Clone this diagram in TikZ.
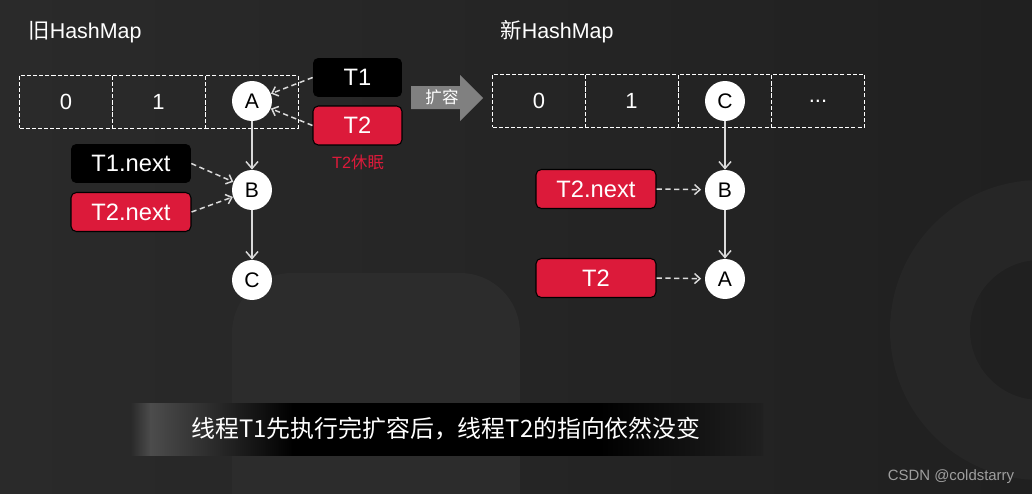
\documentclass[tikz,border=0pt]{standalone}
\usepackage{fontspec}
\setmainfont{Liberation Sans}
\newfontfamily\cjk{Noto Sans CJK SC}
\usetikzlibrary{arrows.meta}

\definecolor{fondoIzq}{HTML}{2A2A2A}
\definecolor{fondoDer}{HTML}{202020}
\definecolor{fondoClaro}{HTML}{2C2C2C}
\definecolor{fondoAro}{HTML}{262626}
\definecolor{rojo}{HTML}{DC1A3A}
\definecolor{grisFlecha}{HTML}{808080}
\definecolor{lineaClara}{HTML}{DADADA}

\begin{document}
\begin{tikzpicture}[
    x=0.02cm, y=-0.02cm,
    % --- NODOS ---
    nodo/.style={circle, fill=white, minimum size=0.8cm, inner sep=0pt, text=black, font=\fontsize{12}{14}\selectfont},
    celda/.style={draw=white, line width=0.5pt, dash pattern=on 2.3pt off 1.2pt, minimum width=1.86cm, minimum height=1.06cm, inner sep=0pt, text=white, font=\fontsize{12.5}{15}\selectfont},
    caja/.style={rounded corners=3pt, minimum width=1.78cm, minimum height=0.78cm, inner sep=0pt, text=white, font=\fontsize{13.5}{16}\selectfont},
    cajaNegra/.style={caja, fill=black},
    cajaRoja/.style={caja, fill=rojo, draw=black, line width=0.6pt},
    titulo/.style={anchor=west, inner sep=0pt, text=white, font=\fontsize{12.2}{14}\selectfont},
    % --- ARISTAS ---
    flechaSolida/.style={-{Straight Barb[length=1.4mm, width=2.4mm]}, color=lineaClara, line width=0.85pt},
    flechaPuntos/.style={-{Straight Barb[length=1.1mm, width=2mm]}, color=lineaClara, line width=0.85pt, dash pattern=on 3pt off 2pt}
]

    % --- FONDO ---
    \useasboundingbox (0,0) rectangle (1032,494);
    \fill[left color=fondoIzq, right color=fondoDer] (0,0) rectangle (1032,494);
    \begin{scope}
        \clip (0,0) rectangle (1032,494);
        \fill[fondoClaro, rounded corners=1.2cm] (232,273) rectangle (520,560);
        \draw[fondoAro, line width=1.6cm] (1040,330) circle[radius=110];
    \end{scope}

    % --- HASHMAP VIEJO ---
    \node[titulo] (tituloViejo) at (28,32) {{\cjk 旧}HashMap};
    \node[celda] (v0) at (66,101.5) {0};
    \node[celda] (v1) at (158.5,101.5) {1};
    \node[celda] (v2) at (251.5,101.5) {};

    \node[nodo] (a) at (252,101) {A};
    \node[nodo] (b) at (252,190) {B};
    \node[nodo] (c) at (252,280) {C};

    \node[cajaNegra] (t1) at (357.5,77.5) {T1};
    \node[cajaRoja] (t2) at (357.5,125.5) {T2};
    \node[text=rojo, font=\fontsize{9.3}{11}\selectfont] (dormido) at (358,162) {T2{\cjk 休眠}};

    \node[cajaNegra, minimum width=2.4cm] (t1next) at (131,163.5) {T1.next};
    \node[cajaRoja, minimum width=2.4cm] (t2next) at (131,212) {T2.next};

    \draw[flechaSolida] (a) -- (b);
    \draw[flechaSolida] (b) -- (c);
    \draw[flechaPuntos] (t1.west) -- (a);
    \draw[flechaPuntos] (t2.west) -- (a);
    \draw[flechaPuntos] (t1next.east) -- (b);
    \draw[flechaPuntos] (t2next.east) -- (b);

    % --- FLECHA DE EXPANSION ---
    \fill[grisFlecha] (411,86) -- (460,86) -- (460,75) -- (483,98) -- (460,121) -- (460,109) -- (411,109) -- cycle;
    \node[text=white, font=\cjk\fontsize{9.4}{11}\selectfont] (expandir) at (442,97.5) {扩容};

    % --- HASHMAP NUEVO ---
    \node[titulo] (tituloNuevo) at (500,32) {{\cjk 新}HashMap};
    \node[celda] (n0) at (539,101) {0};
    \node[celda] (n1) at (631.5,101) {1};
    \node[celda] (n2) at (725,101) {};
    \node[celda] (n3) at (818,101) {...};

    \node[nodo] (nc) at (725,101) {C};
    \node[nodo] (nb) at (725,190) {B};
    \node[nodo] (na) at (725,279) {A};

    \node[cajaRoja, minimum width=2.4cm] (nt2next) at (596,189) {T2.next};
    \node[cajaRoja, minimum width=2.4cm] (nt2) at (596,278) {T2};

    \draw[flechaSolida] (nc) -- (nb);
    \draw[flechaSolida] (nb) -- (na);
    \draw[flechaPuntos, shorten >=2pt] (nt2next.east) -- (nb);
    \draw[flechaPuntos, shorten >=2pt] (nt2.east) -- (na);

    % --- LEYENDA INFERIOR ---
    \fill[left color=fondoIzq, right color=gray!60!black] (131,403) rectangle (151,455);
    \fill[left color=gray!60!black, right color=black] (150,403) rectangle (293,455);
    \fill[black] (292,403) rectangle (601,455.5);
    \fill[left color=black, right color=fondoDer] (600,403) rectangle (763,455);
    \node[text=white, font=\cjk\fontsize{13.6}{16}\selectfont] (leyenda) at (446,429) {线程T1先执行完扩容后，线程T2的指向依然没变};

    \node[text=gray!75, font=\fontsize{8.5}{10}\selectfont] (firma) at (951,477) {CSDN @coldstarry};

\end{tikzpicture}
\end{document}
